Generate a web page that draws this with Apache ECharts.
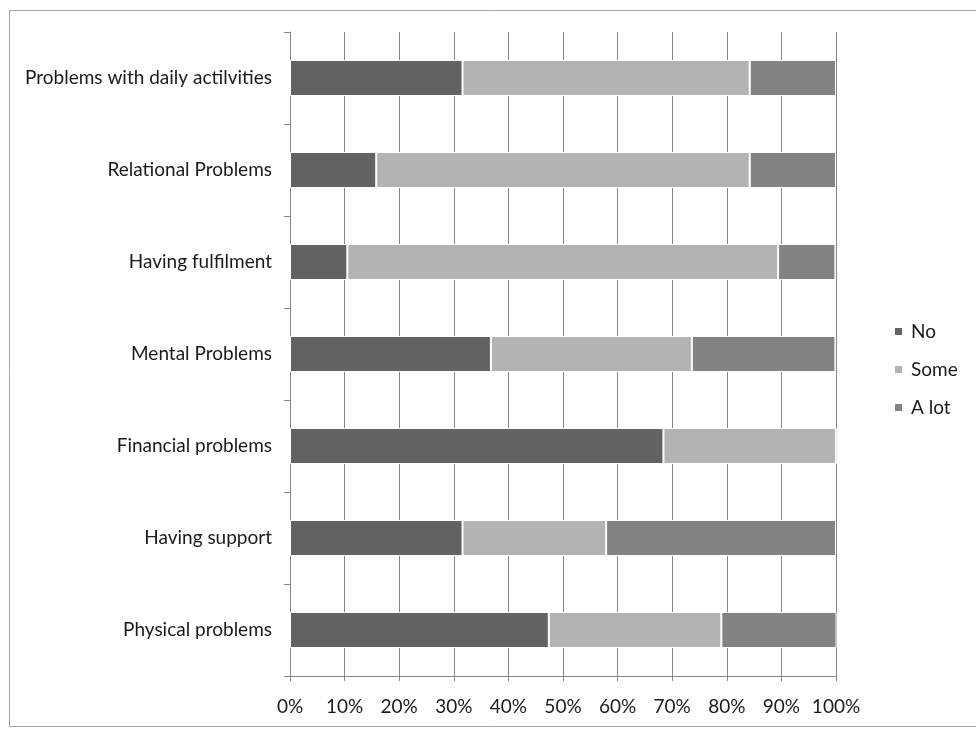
<!DOCTYPE html>
<html>
<head>
<meta charset="utf-8">
<script src="https://cdn.jsdelivr.net/npm/echarts@6/dist/echarts.min.js"></script>
<style>
html,body{margin:0;padding:0;background:#fff;}
#c{width:976px;height:729px;}
</style>
</head>
<body>
<div id="c"></div>
<script>
// Categories, listed top to bottom
const categories = [
  "Problems with daily actilvities",
  "Relational Problems",
  "Having fulfilment",
  "Mental Problems",
  "Financial problems",
  "Having support",
  "Physical problems"
];
// Percent values per category (same order)
const noValues   = [31.6, 15.8, 10.5, 36.8, 68.4, 31.6, 47.4];
const someValues = [52.6, 68.4, 78.9, 36.8, 31.6, 26.3, 31.6];
const alotValues = [15.8, 15.8, 10.5, 26.3, 0,    42.1, 21.1];
const seriesNames = ["No", "Some", "A lot"];
const xTickLabels = ["0%","10%","20%","30%","40%","50%","60%","70%","80%","90%","100%"];

const FONT = "Lato";
const FS = 19;
const colors = ["#636363", "#b3b3b3", "#838383"];
const chart = echarts.init(document.getElementById('c'), null, {renderer: 'canvas'});

function mk(name, data, color) {
  return {
    name: name,
    type: 'bar',
    stack: 'total',
    data: data,
    barWidth: 36,
    itemStyle: {color: color, borderColor: '#ffffff', borderWidth: 1},
    emphasis: {disabled: true}
  };
}

chart.setOption({
  animation: false,
  backgroundColor: '#ffffff',
  textStyle: {fontFamily: FONT},
  graphic: [{
    type: 'rect',
    shape: {x: 9.5, y: 10.5, width: 1000, height: 716},
    style: {fill: 'none', stroke: '#a6a6a6', lineWidth: 1},
    silent: true
  }],
  grid: {left: 290, right: 140, top: 32, bottom: 53, containLabel: false},
  legend: {
    orient: 'vertical',
    left: 893,
    top: 322,
    padding: 0,
    itemWidth: 9,
    itemHeight: 9,
    itemGap: 19,
    icon: 'rect',
    data: seriesNames,
    textStyle: {fontFamily: FONT, fontSize: FS, lineHeight: 19, color: '#1a1a1a', padding: [0,0,0,3]}
  },
  xAxis: {
    type: 'value',
    min: 0,
    max: 100,
    interval: 10,
    axisLine: {show: true, lineStyle: {color: '#868686', width: 1}},
    axisTick: {show: true, length: 5, lineStyle: {color: '#868686'}},
    splitLine: {show: true, lineStyle: {color: '#868686', width: 1}},
    axisLabel: {
      margin: 21,
      fontFamily: FONT, fontSize: FS, color: '#1a1a1a',
      formatter: function (v) { return xTickLabels[Math.round(v / 10)]; }
    }
  },
  yAxis: {
    type: 'category',
    data: categories,
    inverse: true,
    axisLine: {show: true, lineStyle: {color: '#868686', width: 1}},
    axisTick: {show: true, length: 6, lineStyle: {color: '#868686'}},
    axisLabel: {margin: 18, fontFamily: FONT, fontSize: FS, color: '#1a1a1a'}
  },
  series: [
    mk(seriesNames[0], noValues, colors[0]),
    mk(seriesNames[1], someValues, colors[1]),
    mk(seriesNames[2], alotValues, colors[2])
  ]
});
</script>
</body>
</html>
